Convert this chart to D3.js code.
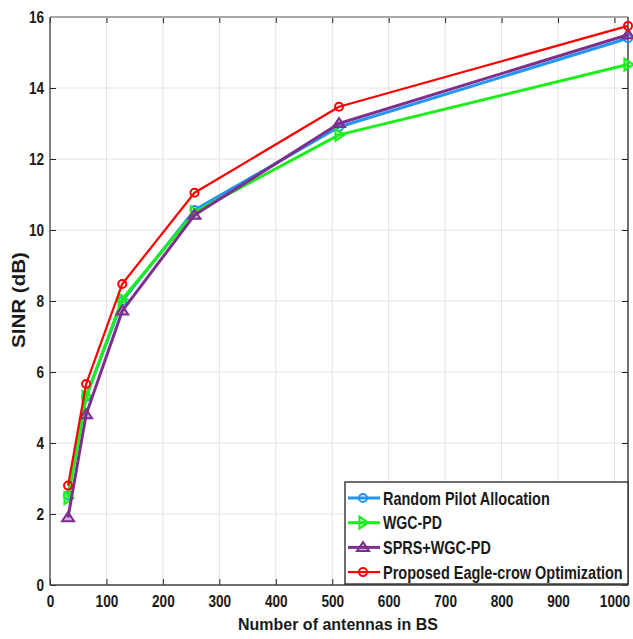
<!DOCTYPE html>
<html><head><meta charset="utf-8">
<script src="https://cdn.jsdelivr.net/npm/d3@7"></script>
<style>
html,body{margin:0;padding:0;background:#fff;}
text{font-family:"Liberation Sans Narrow","Arial Narrow","Liberation Sans",sans-serif;font-weight:bold;}
</style></head><body>
<svg id="chart" width="633" height="639"></svg>
<script>
const antennas = [32, 64, 128, 256, 512, 1024];
const randomPilot = [2.52, 5.3, 8.0, 10.56, 12.9, 15.4];
const wgcPd = [2.45, 5.3, 8.05, 10.5, 12.68, 14.66];
const sprsWgcPd = [1.9, 4.8, 7.72, 10.42, 13.0, 15.5];
const proposed = [2.8, 5.66, 8.48, 11.05, 13.47, 15.75];
const seriesNames = ["Random Pilot Allocation", "WGC-PD", "SPRS+WGC-PD", "Proposed Eagle-crow Optimization"];
const xTicks = [0,100,200,300,400,500,600,700,800,900,1000];
const yTicks = [0,2,4,6,8,10,12,14,16];

const series = [
  {name: seriesNames[0], values: randomPilot, color: "#2196F3", width: 3, marker: "circle"},
  {name: seriesNames[1], values: wgcPd, color: "#19F019", width: 3, marker: "triR"},
  {name: seriesNames[2], values: sprsWgcPd, color: "#7E2F8E", width: 3, marker: "triU"},
  {name: seriesNames[3], values: proposed, color: "#FF0000", width: 2.2, marker: "circle"}
];
const legendLengths = [167, 59, 108, 240];

const svg = d3.select("#chart");
const L = 50, R = 628, T = 17, B = 585;
const x = d3.scaleLinear().domain([0, 1024]).range([L, R]);
const y = d3.scaleLinear().domain([0, 16]).range([B, T]);
const SX = 0.85;

// narrow text helper: place text with baseline at (tx,ty), scaled horizontally to width w
function narrowText(parent, tx, ty, str, size, w, rotate) {
  const grp = parent.append("g");
  const t = grp.append("text").attr("x", 0).attr("y", 0).attr("fill", "#1a1a1a")
    .style("font-size", size + "px").text(str);
  const nat = t.node().getComputedTextLength();
  const s = w / nat;
  grp.attr("transform", `translate(${tx},${ty})${rotate ? " rotate(-90)" : ""} scale(${s},1)`);
  return grp;
}

// grid
const g = svg.append("g");
g.selectAll(".gx").data(xTicks).enter().append("line")
  .attr("x1", d=>x(d)).attr("x2", d=>x(d)).attr("y1", T).attr("y2", B)
  .attr("stroke", "#e2e2e2").attr("stroke-width", 1);
g.selectAll(".gy").data(yTicks).enter().append("line")
  .attr("y1", d=>y(d)).attr("y2", d=>y(d)).attr("x1", L).attr("x2", R)
  .attr("stroke", "#e2e2e2").attr("stroke-width", 1);

// axes
const xAxis = d3.axisBottom(x).tickValues(xTicks).tickSize(-6).tickPadding(11).tickFormat(d3.format("d"));
const yAxis = d3.axisLeft(y).tickValues(yTicks).tickSize(-6).tickPadding(6);
const ax = svg.append("g").attr("transform", `translate(0,${B})`).call(xAxis);
const ay = svg.append("g").attr("transform", `translate(${L},0)`).call(yAxis);
const axTop = svg.append("g").attr("transform", `translate(0,${T})`).call(d3.axisTop(x).tickValues(xTicks).tickSize(-6).tickFormat(""));
const ayR = svg.append("g").attr("transform", `translate(${R},0)`).call(d3.axisRight(y).tickValues(yTicks).tickSize(-6).tickFormat(""));
[ax, ay, axTop, ayR].forEach(a => {
  a.select(".domain").remove();
  a.selectAll(".tick line").attr("stroke", "#222").attr("stroke-width", 1);
  a.selectAll("text").attr("fill", "#1a1a1a").style("font-size", "16px")
    .style("font-family", "'Liberation Sans Narrow','Arial Narrow','Liberation Sans',sans-serif").style("font-weight", "bold");
});
ax.selectAll(".tick text").attr("transform", `scale(${SX},1)`);
ay.selectAll(".tick text").attr("x", -6 / SX).attr("transform", `scale(${SX},1)`);

// frame
svg.append("line").attr("x1", L).attr("x2", R).attr("y1", T).attr("y2", T).attr("stroke", "#a8a8a8").attr("stroke-width", 2);
svg.append("line").attr("x1", L).attr("x2", L).attr("y1", T).attr("y2", B).attr("stroke", "#444").attr("stroke-width", 1.3);
svg.append("line").attr("x1", L).attr("x2", R).attr("y1", B).attr("y2", B).attr("stroke", "#444").attr("stroke-width", 1.3);
svg.append("line").attr("x1", R).attr("x2", R).attr("y1", T).attr("y2", B).attr("stroke", "#222").attr("stroke-width", 1.3);

// markers
function drawMarker(sel, type, color, cx, cy) {
  if (type === "circle") {
    sel.append("circle").attr("cx", cx).attr("cy", cy).attr("r", 4)
      .attr("fill", "none").attr("stroke", color).attr("stroke-width", 2);
  } else if (type === "triR") {
    const s = 6;
    sel.append("path").attr("d", `M${cx-s*0.6},${cy-s} L${cx+s*0.9},${cy} L${cx-s*0.6},${cy+s} Z`)
      .attr("fill", color).attr("fill-opacity", 0.35).attr("stroke", color).attr("stroke-width", 2);
  } else {
    const s = 6;
    sel.append("path").attr("d", `M${cx},${cy-s*0.9} L${cx+s},${cy+s*0.6} L${cx-s},${cy+s*0.6} Z`)
      .attr("fill", color).attr("fill-opacity", 0.35).attr("stroke", color).attr("stroke-width", 2);
  }
}

const line = d3.line().x(d=>x(d[0])).y(d=>y(d[1]));
series.forEach(s => {
  const pts = antennas.map((a,i)=>[a, s.values[i]]);
  const sg = svg.append("g");
  sg.append("path").attr("d", line(pts)).attr("fill", "none")
    .attr("stroke", s.color).attr("stroke-width", s.width).attr("stroke-linejoin", "round");
  pts.forEach(p => drawMarker(sg, s.marker, s.color, x(p[0]), y(p[1])));
});

// axis labels
narrowText(svg, 238, 630, "Number of antennas in BS", 17, 200, false);
narrowText(svg, 25, 348, "SINR (dB)", 17.5, 96, true);

// legend
const lg = svg.append("g");
const lx = 345, ly = 482, lw = R - lx, lh = 102;
lg.append("rect").attr("x", lx).attr("y", ly).attr("width", lw).attr("height", lh)
  .attr("fill", "#fff").attr("stroke", "#222").attr("stroke-width", 1.3);
series.forEach((s, i) => {
  const yy = 498 + i * 24.7;
  lg.append("line").attr("x1", 348).attr("x2", 380).attr("y1", yy).attr("y2", yy)
    .attr("stroke", s.color).attr("stroke-width", s.width);
  drawMarker(lg, s.marker, s.color, 363, yy);
  narrowText(lg, 383, yy + 6.5, s.name, 17.5, legendLengths[i], false);
});
</script>
</body></html>
